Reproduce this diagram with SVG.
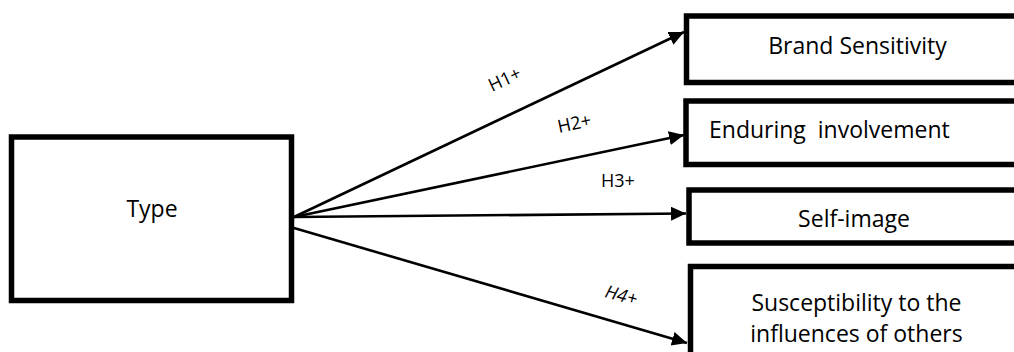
<svg xmlns="http://www.w3.org/2000/svg" width="1014" height="352" viewBox="0 0 1014 352">
  <style>
    .box { fill: #fff; stroke: #000; stroke-width: 5.5; }
    .lbl { font-family: "Open Sans", "Liberation Sans", sans-serif; font-size: 23px; fill: #000; }
    .hyp { font-family: "Open Sans", "Liberation Sans", sans-serif; font-size: 18px; fill: #000; }
    .edge { stroke: #000; stroke-width: 2.6; fill: none; }
  </style>
  <defs>
    <marker id="arrow" markerUnits="userSpaceOnUse" markerWidth="16" markerHeight="16" refX="15" refY="7" orient="auto">
      <path d="M0,0 L15,7 L0,14 z" fill="#000"/>
    </marker>
  </defs>
  <rect width="1014" height="352" fill="#fff"/>

  <g id="type">
    <rect class="box" x="11.5" y="137" width="280" height="163.5"/>
    <text class="lbl" x="152" y="217" text-anchor="middle">Type</text>
  </g>

  <g id="brand-sensitivity">
    <rect class="box" x="686.5" y="16" width="340" height="66.5"/>
    <text class="lbl" x="857.5" y="53.5" text-anchor="middle">Brand Sensitivity</text>
  </g>

  <g id="enduring-involvement">
    <rect class="box" x="686" y="101" width="340" height="63.5"/>
    <text class="lbl" x="709" y="138" style="white-space:pre">Enduring  involvement</text>
  </g>

  <g id="self-image">
    <rect class="box" x="689" y="190" width="340" height="53"/>
    <text class="lbl" x="854" y="227" text-anchor="middle">Self-image</text>
  </g>

  <g id="susceptibility">
    <rect class="box" x="690.5" y="266.5" width="340" height="100"/>
    <text class="lbl" x="856.5" y="311" text-anchor="middle">Susceptibility to the</text>
    <text class="lbl" x="856.5" y="342" text-anchor="middle">influences of others</text>
  </g>

  <g id="connectors">
    <line class="edge" x1="294" y1="217" x2="684" y2="32" marker-end="url(#arrow)"/>
    <line class="edge" x1="294" y1="217" x2="684" y2="135" marker-end="url(#arrow)"/>
    <line class="edge" x1="294" y1="217" x2="686" y2="213.5" marker-end="url(#arrow)"/>
    <line class="edge" x1="294" y1="228" x2="687" y2="343" marker-end="url(#arrow)"/>
    <text class="hyp" transform="translate(492,92) rotate(-25)">H1+</text>
    <text class="hyp" transform="translate(559,133) rotate(-12)">H2+</text>
    <text class="hyp" x="601" y="187">H3+</text>
    <text class="hyp" font-style="italic" transform="translate(604,297) rotate(15)">H4+</text>
  </g>
</svg>
